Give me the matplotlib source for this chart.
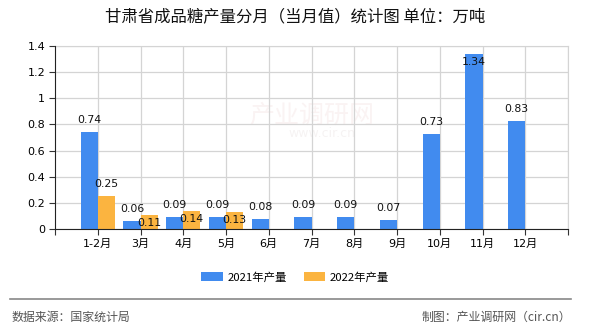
import matplotlib
matplotlib.use("Agg")
import matplotlib.pyplot as plt
import numpy as np

plt.rcParams['font.family'] = ['DejaVu Sans', 'Noto Sans CJK SC']

categories = ['1-2月', '3月', '4月', '5月', '6月', '7月', '8月', '9月', '10月', '11月', '12月']
values_2021 = [0.74, 0.06, 0.09, 0.09, 0.08, 0.09, 0.09, 0.07, 0.73, 1.34, 0.83]
values_2022 = [0.25, 0.11, 0.14, 0.13]
series_names = ['2021年产量', '2022年产量']
label_pos_2021 = ['above'] * 9 + ['inside'] + ['above']
label_pos_2022 = ['above', 'inside', 'inside', 'inside']
yticks = [0, 0.2, 0.4, 0.6, 0.8, 1.0, 1.2, 1.4]
ytick_labels = ['0', '0.2', '0.4', '0.6', '0.8', '1', '1.2', '1.4']

title = '甘肃省成品糖产量分月（当月值）统计图 单位：万吨'
source = '数据来源：国家统计局'
credit = '制图：产业调研网（cir.cn）'

blue = '#418BEF'
orange = '#FBB440'
cjk = ['Noto Sans CJK SC', 'DejaVu Sans']

fig = plt.figure(figsize=(5.9, 3.3), dpi=100)
ax = fig.add_axes([55/590, 1-229/330, (568-55)/590, (229-46)/330])

w = 0.4
x1 = np.arange(len(values_2021))
x2 = np.arange(len(values_2022))
b1 = ax.bar(x1 - w/2, values_2021, width=w, color=blue, zorder=3, label=series_names[0])
b2 = ax.bar(x2 + w/2, values_2022, width=w, color=orange, zorder=3, label=series_names[1])

def add_labels(xs, vals, poss):
    for xx, v, p in zip(xs, vals, poss):
        dy = 8.6 if p == 'above' else -5.8
        ax.annotate(f'{v:.2f}', (xx, v), xytext=(0, dy), textcoords='offset points',
                    ha='center', va='center', fontsize=7.8, color='#111111', zorder=5)

add_labels(x1 - w/2, values_2021, label_pos_2021)
add_labels(x2 + w/2, values_2022, label_pos_2022)

ax.set_xlim(-1, len(categories))
ax.set_ylim(0, 1.4)
ax.set_yticks(yticks)
ax.set_yticklabels(ytick_labels, fontsize=8)
ax.set_xticks(x1)
ax.set_xticklabels(categories, fontsize=8)
ax.set_xticks([-1, len(categories)], minor=True)
ax.tick_params(axis='both', which='both', direction='out', length=4, width=0.8, color='#333333')
ax.tick_params(axis='x', pad=3)
ax.tick_params(axis='y', pad=3)

ax.grid(True, which='major', color='#d4d4d4', linewidth=0.9, zorder=0)
ax.axvline(len(categories), color='#d4d4d4', linewidth=0.9, zorder=0)
for s in ['top', 'right']:
    ax.spines[s].set_color('#d4d4d4')
ax.spines['left'].set_color('#222222')
ax.spines['bottom'].set_color('#222222')
ax.spines['left'].set_zorder(4)
ax.spines['bottom'].set_zorder(4)

# faint watermark
ax.text(0.50, 0.62, '产业调研网', transform=ax.transAxes, fontsize=18, color='#faf3f3',
        family=cjk, ha='center', va='center', zorder=1)
ax.text(0.52, 0.52, 'www.cir.cn', transform=ax.transAxes, fontsize=9, color='#f6f3f3',
        ha='center', va='center', zorder=1)

fig.text(0.5, 1-17/330, title, ha='center', va='center', fontsize=11.8, family=cjk, color='#111111')

leg = fig.legend(handles=[b1, b2], labels=series_names, loc='center', bbox_to_anchor=(0.5, 1-277/330),
                 ncol=2, frameon=False, prop={'family': cjk, 'size': 8.2},
                 handlelength=1.9, handleheight=0.8, columnspacing=1.5, handletextpad=0.4)

fig.add_artist(plt.Line2D([10/590, 571/590], [1-298.7/330, 1-298.7/330], color='#888888', linewidth=1.2))
fig.text(12/590, 1-317/330, source, ha='left', va='center', fontsize=8.6, family=cjk, color='#555555')
fig.text(571/590, 1-317/330, credit, ha='right', va='center', fontsize=8.6, family=cjk, color='#555555')

fig.savefig('out.png', dpi=100)
